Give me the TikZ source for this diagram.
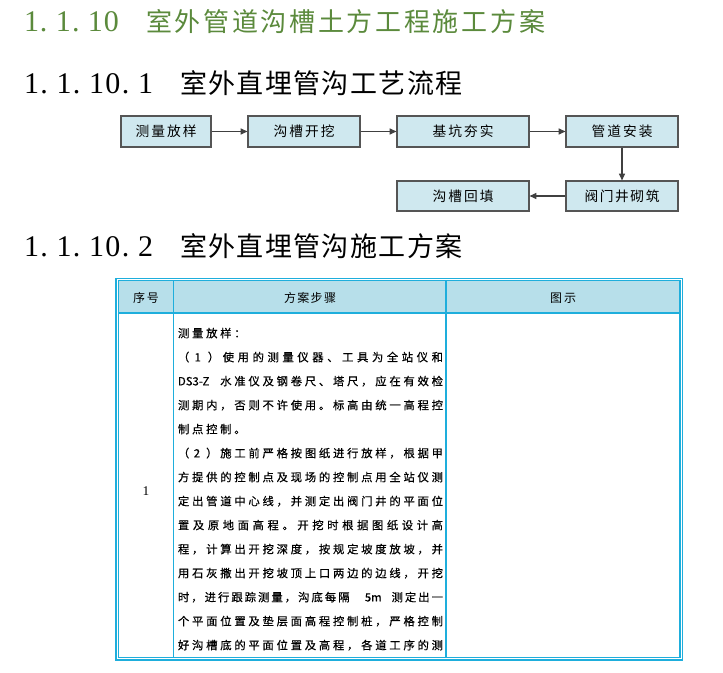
\documentclass[tikz,border=0pt]{standalone}
\usepackage{fontspec}
\setmainfont{Liberation Serif}
\newfontfamily\cjk{Noto Sans CJK SC}
\newfontfamily\cjkb[FakeBold=0.5]{Noto Sans CJK SC}
\usetikzlibrary{arrows.meta}
\newdimen\px \px=0.75pt
% sentinel
\def\spcstop{\spcstop}
\def\spcstopm{\spcstop}
% fixed pitch characters
\newcommand\spc[2]{\def\spcpitch{#1}\spcloop#2\spcstop}
\def\spcloop#1{\def\spcarg{#1}\ifx\spcarg\spcstopm\else\makebox[\spcpitch][l]{#1}\expandafter\spcloop\fi}
% justified line of given width
\newcommand\tl[2]{\hbox to #1{\let\tlsep\relax\tlloop#2\spcstop}}
\def\tlloop#1{\def\spcarg{#1}\ifx\spcarg\spcstopm\else\tlsep\makebox[1em][l]{#1}\let\tlsep\hfil\expandafter\tlloop\fi}
\definecolor{tgreen}{HTML}{5B8A3C}
\definecolor{boxfill}{HTML}{CFE8EF}
\definecolor{boxdraw}{HTML}{555555}
\definecolor{tcyan}{HTML}{1EAEDC}
\definecolor{hdrfill}{HTML}{B7DFEA}
\newcommand\fDigit{\fontsize{22.5pt}{26pt}\selectfont}
\newcommand\fTitleA{\cjk\fontsize{19.5pt}{23pt}\selectfont}
\newcommand\fTitleB{\cjk\fontsize{20.25pt}{24pt}\selectfont}
\newcommand\fFlow{\cjk\fontsize{10.3pt}{12pt}\selectfont}
\newcommand\fHead{\cjk\fontsize{9pt}{11pt}\selectfont}
\newcommand\fBody{\cjkb\fontsize{8.5pt}{10pt}\selectfont}
\begin{document}
\begin{tikzpicture}[x=0.75pt,y=-0.75pt,
  txt/.style={inner sep=0pt, outer sep=0pt},
  fbox/.style={draw=boxdraw, fill=boxfill, line width=0.9pt, inner sep=0pt, font=\fFlow},
  farrow/.style={draw=black!75, line width=0.8pt, -{Triangle[length=5pt,width=4.5pt]}},
  tline/.style={draw=tcyan, line width=0.8pt}]
\fill[white] (0,0) rectangle (723,673);
\useasboundingbox (0,0) rectangle (723,673);

% ---------- titles ----------
\node[txt, anchor=base west, text=tgreen, font=\fDigit] (t1n) at (24,31.5) {\spc{16\px}{1.1.10}};
\node[txt, anchor=base west, text=tgreen, font=\fTitleA] (t1c) at (146,31.5) {\spc{28.7\px}{室外管道沟槽土方工程施工方案}};

\node[txt, anchor=base west, font=\fDigit] (t2n) at (24,93.8) {\spc{16.3\px}{1.1.10.1}};
\node[txt, anchor=base west, font=\fTitleB] (t2c) at (180,93.8) {\spc{28.4\px}{室外直埋管沟工艺流程}};

\node[txt, anchor=base west, font=\fDigit] (t3n) at (24,257) {\spc{16.3\px}{1.1.10.2}};
\node[txt, anchor=base west, font=\fTitleB] (t3c) at (180,257) {\spc{28.4\px}{室外直埋管沟施工方案}};

% ---------- flow chart ----------
\node[fbox, minimum width=67.5pt, minimum height=23.25pt] (b1) at (166,131.5) {\tl{61\px}{测量放样}};
\node[fbox, minimum width=84pt, minimum height=23.25pt] (b2) at (304,131.5) {\tl{61\px}{沟槽开挖}};
\node[fbox, minimum width=99pt, minimum height=23.25pt] (b3) at (463,131.5) {\tl{61\px}{基坑夯实}};
\node[fbox, minimum width=84pt, minimum height=23.25pt] (b4) at (622,131.5) {\tl{61\px}{管道安装}};
\node[fbox, minimum width=84pt, minimum height=22.5pt] (b5) at (622,196) {\tl{75\px}{阀门井砌筑}};
\node[fbox, minimum width=99pt, minimum height=22.5pt] (b6) at (463,196) {\tl{61\px}{沟槽回填}};
\draw[farrow] (b1) -- (b2);
\draw[farrow] (b2) -- (b3);
\draw[farrow] (b3) -- (b4);
\draw[farrow] (b4) -- (b5);
\draw[farrow] (b5) -- (b6);

% ---------- table ----------
\fill[hdrfill] (118.5,280.7) rectangle (680,313);
\draw[tline] (116,278.3) rectangle (682.3,660);
\draw[tline] (118.5,280.7) rectangle (680,657.7);
\draw[tline] (118.5,313) -- (680,313);
\draw[tline] (173.5,280.7) -- (173.5,657.7);
\draw[tline] (446,280.7) -- (446,657.7);

\node[txt, anchor=base, font=\fHead] (h1) at (146,302.5) {\tl{26\px}{序号}};
\node[txt, anchor=base, font=\fHead] (h2) at (310,302.5) {\tl{52\px}{方案步骤}};
\node[txt, anchor=base, font=\fHead] (h3) at (563,302.5) {\tl{26\px}{图示}};

\node[txt, anchor=base, font=\fontsize{10pt}{12pt}\selectfont] (n1) at (146,495) {1};

\begin{scope}[every node/.style={txt, anchor=base west, font=\fBody}]
\node (l1) at (178,337.4) {\tl{67.6\px}{测量放样：}};
\node (l2) at (178,361.4) {\tl{265\px}{（{\hfil1\hfil}）使用的测量仪器、工具为全站仪和}};
\node (l3) at (178,385.4) {\tl{265\px}{{DS3-Z}{}{}水准仪及钢卷尺、塔尺，应在有效检}};
\node (l4) at (178,409.4) {\tl{265\px}{测期内，否则不许使用。标高由统一高程控}};
\node (l5) at (178,433.4) {\tl{67.6\px}{制点控制。}};
\node (l6) at (178,457.4) {\tl{265\px}{（{\hfil2\hfil}）施工前严格按图纸进行放样，根据甲}};
\node (l7) at (178,481.4) {\tl{265\px}{方提供的控制点及现场的控制点用全站仪测}};
\node (l8) at (178,505.4) {\tl{265\px}{定出管道中心线，并测定出阀门井的平面位}};
\node (l9) at (178,529.4) {\tl{265\px}{置及原地面高程。开挖时根据图纸设计高}};
\node (l10) at (178,553.4) {\tl{265\px}{程，计算出开挖深度，按规定坡度放坡，并}};
\node (l11) at (178,577.4) {\tl{265\px}{用石灰撒出开挖坡顶上口两边的边线，开挖}};
\node (l12) at (178,601.4) {\tl{265\px}{时，进行跟踪测量，沟底每隔{}{5m}{}测定出一}};
\node (l13) at (178,625.4) {\tl{265\px}{个平面位置及垫层面高程控制桩，严格控制}};
\node (l14) at (178,649.4) {\tl{265\px}{好沟槽底的平面位置及高程，各道工序的测}};
\end{scope}
\end{tikzpicture}
\end{document}
